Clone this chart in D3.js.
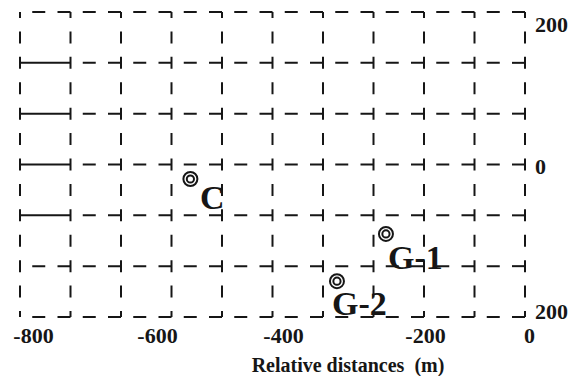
<!DOCTYPE html>
<html><head><meta charset="utf-8">
<script src="https://cdn.jsdelivr.net/npm/d3@7"></script>
<style>html,body{margin:0;padding:0;background:#fff;} svg{display:block;}</style>
</head><body><svg id="c" width="573" height="376"></svg>
<script>
// ---- data ----
const xTicks = [-800, -600, -400, -200, 0];
const xTickLabels = ["-800", "-600", "-400", "-200", "0"];
const yTicks = [200, 0, -200];
const yTickLabels = ["200", "0", "200"];
const siteNames = ["C", "G-1", "G-2"];
const siteX = [-547, -255, -324];
const siteY = [-19, -91, -153];
const xTitle = "Relative distances  (m)";

// ---- layout / style ----
const FONT = "'Liberation Serif','Times New Roman',serif";
const INK = "#161616";
const gridCols = 10, gridRows = 6;
const solidRows = [1, 2, 3, 4];
const labelOffset = {"C": [9.5, 30], "G-1": [2, 35], "G-2": [-5, 34]};

const svg = d3.select("#c");
svg.append("rect").attr("width", 573).attr("height", 376).attr("fill", "#fff");

const x = d3.scaleLinear().domain(xTicks).range([33, 157, 283, 425, 529]);
const y = d3.scaleLinear().domain([-200, 200]).range([317, 12]);
const yLab = d3.scaleLinear().domain([-200, 0, 200]).range([310.5, 165.5, 23.5]);
const gx = d3.scaleLinear().domain([0, gridCols]).range([20, 525]);
const gy = d3.scaleLinear().domain([0, gridRows]).range([12, 317]);

const hp = (gx(1) - gx(0)) / 2; // horizontal dash period
const vp = (gy(1) - gy(0)) / 2; // vertical dash period
const hDash = 13, vDash = 12;

const grid = svg.append("g").attr("stroke", INK).attr("stroke-width", 2).attr("fill", "none");

// vertical grid lines
d3.range(gridCols + 1).forEach(c => {
  grid.append("line")
    .attr("x1", gx(c)).attr("x2", gx(c))
    .attr("y1", gy(0)).attr("y2", gy(gridRows))
    .attr("stroke-dasharray", `${vDash} ${vp - vDash}`)
    .attr("stroke-dashoffset", vDash / 2);
});

// horizontal grid lines
d3.range(gridRows + 1).forEach(r => {
  const solid = solidRows.includes(r);
  if (solid) {
    grid.append("line")
      .attr("x1", gx(0)).attr("x2", gx(1))
      .attr("y1", gy(r)).attr("y2", gy(r));
  }
  grid.append("line")
    .attr("x1", gx(solid ? 1 : 0)).attr("x2", gx(gridCols))
    .attr("y1", gy(r)).attr("y2", gy(r))
    .attr("stroke-dasharray", `${hDash} ${hp - hDash}`)
    .attr("stroke-dashoffset", hDash);
});

// bottom axis labels
const xa = svg.append("g").attr("transform", "translate(0,343)")
  .call(d3.axisBottom(x).tickValues(xTicks).tickFormat((d, i) => xTickLabels[i]).tickSize(0).tickPadding(0));
xa.select(".domain").remove();
xa.attr("font-family", FONT).attr("font-size", 22).attr("font-weight", "bold").attr("color", INK);
xa.selectAll("text").attr("y", 0).attr("dy", 0);

// right axis labels
const ya = svg.append("g").attr("transform", "translate(535,0)")
  .call(d3.axisRight(yLab).tickValues(yTicks).tickFormat((d, i) => yTickLabels[i]).tickSize(0).tickPadding(0));
ya.select(".domain").remove();
ya.attr("font-family", FONT).attr("font-size", 22).attr("font-weight", "bold").attr("color", INK);
ya.selectAll("text").attr("x", 0).attr("dy", "0.35em");

// axis title
svg.append("text").attr("x", 348).attr("y", 372)
  .attr("text-anchor", "middle").attr("font-family", FONT).attr("font-size", 20)
  .attr("font-weight", "bold").attr("fill", INK).attr("xml:space", "preserve")
  .style("white-space", "pre").text(xTitle);

// sites
const sites = siteNames.map((n, i) => ({name: n, x: siteX[i], y: siteY[i]}));
const sg = svg.append("g").selectAll("g").data(sites).join("g")
  .attr("transform", d => `translate(${x(d.x)},${y(d.y)})`);
sg.append("circle").attr("r", 7).attr("fill", "#fff").attr("stroke", INK).attr("stroke-width", 2);
sg.append("circle").attr("r", 3.6).attr("fill", "none").attr("stroke", INK).attr("stroke-width", 2);
sg.append("text")
  .attr("x", d => labelOffset[d.name][0]).attr("y", d => labelOffset[d.name][1])
  .attr("font-family", FONT).attr("font-size", 34).attr("font-weight", "bold")
  .attr("fill", INK).text(d => d.name);
</script></body></html>
